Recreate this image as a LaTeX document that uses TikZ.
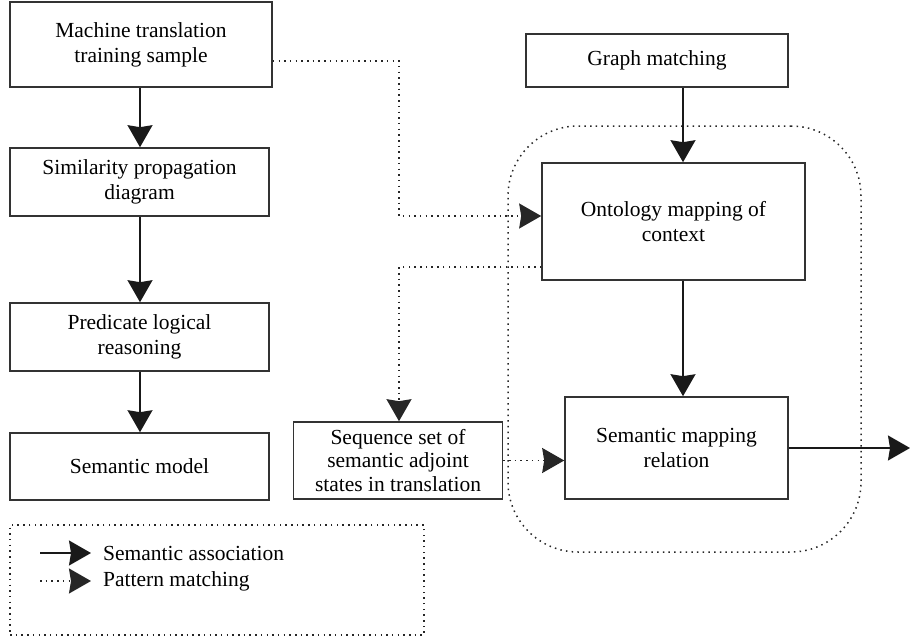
\documentclass[tikz,border=0pt]{standalone}
\usepackage{fontspec}
\setmainfont{Liberation Serif}
\usetikzlibrary{arrows.meta}
\tikzset{
  box/.style={draw=black!80, line width=1.6pt, inner sep=0pt, align=center,
    font=\fontsize{21.5}{25}\selectfont},
  dotline/.style={line width=1.5pt, dash pattern=on 1.5pt off 4.2pt, draw=black!85},
  arr/.style={line width=1.4pt, draw=black!90, -{Stealth[length=22pt,width=25pt,inset=2pt]}},
  dotarr/.style={dotline, -{Stealth[length=22pt,width=25pt,inset=2pt]}},
  legtext/.style={anchor=west, inner sep=0pt, font=\fontsize{21.5}{25}\selectfont}
}
\begin{document}
\begin{tikzpicture}[x=1pt,y=-1pt]
\useasboundingbox (0,0) rectangle (910,642);
% container
\node[dotline, draw, rounded corners=70pt, minimum width=353pt, minimum height=426pt, inner sep=0pt] (cont) at (684.5,339) {};
% left column
\node[box, minimum width=262pt, minimum height=85pt] (m1) at (141,44.5) {Machine translation\\training sample};
\node[box, minimum width=259pt, minimum height=68pt] (m2) at (139.5,182) {Similarity propagation\\diagram};
\node[box, minimum width=259pt, minimum height=68pt] (m3) at (139.5,337) {Predicate logical\\reasoning};
\node[box, minimum width=259pt, minimum height=67pt] (m4) at (139.5,466.5) {Semantic model};
% right part
\node[box, minimum width=262pt, minimum height=53pt] (g) at (657,60.5) {Graph matching};
\node[box, minimum width=263pt, minimum height=117pt] (o) at (673.5,221.5) {Ontology mapping of\\context};
\node[box, minimum width=209pt, minimum height=77pt, font=\fontsize{21.5}{23.5}\selectfont] (s) at (398,460.5) {Sequence set of\\semantic adjoint\\states in translation};
\node[box, minimum width=223pt, minimum height=102pt] (r) at (676.5,448) {Semantic mapping\\relation};
% coordinates
\coordinate (cl) at (140,0);
\coordinate (cx) at (683,0);
\coordinate (b1) at (399,61);
\coordinate (b2) at (399,216);
\coordinate (b3) at (399,267);
\coordinate (out) at (910,448);
% solid arrows
\draw[arr] (m1.south -| cl) -- (m2.north -| cl);
\draw[arr] (m2.south -| cl) -- (m3.north -| cl);
\draw[arr] (m3.south -| cl) -- (m4.north -| cl);
\draw[arr] (g.south -| cx) -- (o.north -| cx);
\draw[arr] (o.south -| cx) -- (r.north -| cx);
\draw[arr] (r.east) -- (out);
% dotted arrows
\draw[dotarr] (m1.east |- b1) -- (b1) -- (b2) -- (o.west |- b2);
\draw[dotarr] (o.west |- b3) -- (b3) -- (s.north -| b3);
\draw[dotarr] (s.east) -- (r.west |- s.east);
% legend
\node[dotline, draw, minimum width=414pt, minimum height=110pt, inner sep=0pt] (leg) at (217,580) {};
\coordinate (la1) at (40,553);
\coordinate (la2) at (91,553);
\coordinate (lb1) at (40,581);
\coordinate (lb2) at (91,581);
\draw[arr] (la1) -- (la2);
\draw[dotarr] (lb1) -- (lb2);
\node[legtext] (lta) at (103,553) {Semantic association};
\node[legtext] (ltb) at (103,581) {Pattern matching};
\end{tikzpicture}
\end{document}
